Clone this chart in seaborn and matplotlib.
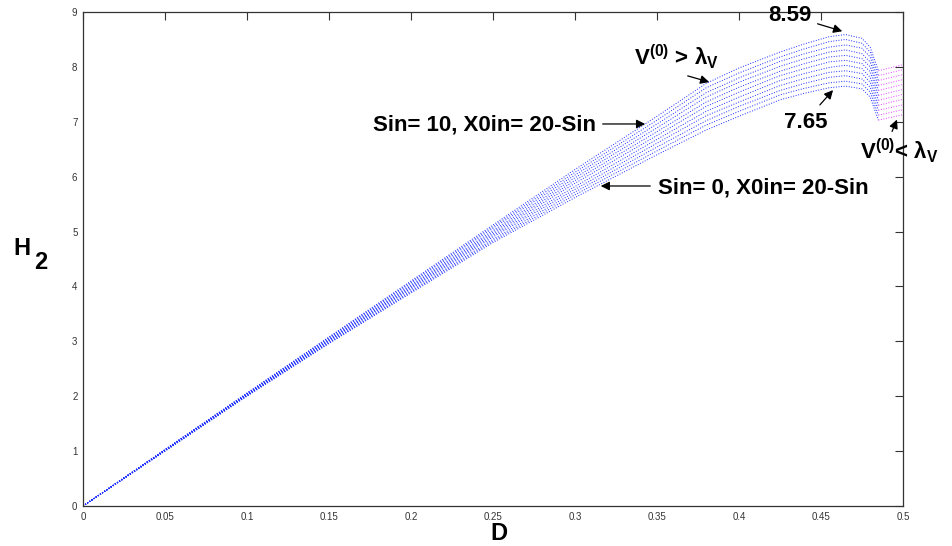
import matplotlib
matplotlib.use('Agg')
import matplotlib.pyplot as plt
import pandas as pd
import seaborn as sns

# D values along each curve (blue branch, V(0) > lambda_V)
d_blue = [0, 0.05, 0.1, 0.15, 0.2, 0.25, 0.3, 0.35, 0.38, 0.4, 0.425, 0.44,
          0.455, 0.465, 0.475, 0.48, 0.485]

# H2, one list per Sin value (Sin = 0 ... 10)
h_sin0 = [0, 1.00, 2.00, 2.96, 3.88, 4.80, 5.62, 6.40, 6.85, 7.10, 7.40, 7.52, 7.62, 7.65, 7.60, 7.45, 7.03]
h_sin1 = [0, 1.00, 2.01, 2.97, 3.90, 4.83, 5.67, 6.47, 6.94, 7.19, 7.49, 7.61, 7.71, 7.74, 7.69, 7.54, 7.12]
h_sin2 = [0, 1.01, 2.01, 2.98, 3.92, 4.86, 5.72, 6.54, 7.02, 7.28, 7.57, 7.70, 7.81, 7.84, 7.78, 7.63, 7.21]
h_sin3 = [0, 1.01, 2.02, 3.00, 3.95, 4.90, 5.77, 6.61, 7.11, 7.36, 7.66, 7.79, 7.90, 7.93, 7.88, 7.72, 7.30]
h_sin4 = [0, 1.01, 2.02, 3.01, 3.97, 4.93, 5.82, 6.68, 7.19, 7.45, 7.75, 7.88, 7.99, 8.03, 7.97, 7.81, 7.39]
h_sin5 = [0, 1.02, 2.03, 3.02, 3.99, 4.96, 5.88, 6.75, 7.28, 7.54, 7.84, 7.97, 8.09, 8.12, 8.06, 7.91, 7.48]
h_sin6 = [0, 1.02, 2.04, 3.03, 4.01, 4.99, 5.93, 6.82, 7.36, 7.63, 7.92, 8.06, 8.18, 8.21, 8.15, 8.00, 7.57]
h_sin7 = [0, 1.02, 2.04, 3.04, 4.03, 5.02, 5.98, 6.89, 7.45, 7.72, 8.01, 8.15, 8.27, 8.31, 8.24, 8.09, 7.66]
h_sin8 = [0, 1.02, 2.05, 3.06, 4.06, 5.06, 6.03, 6.96, 7.53, 7.80, 8.10, 8.24, 8.36, 8.40, 8.34, 8.18, 7.75]
h_sin9 = [0, 1.03, 2.05, 3.07, 4.08, 5.09, 6.08, 7.03, 7.62, 7.89, 8.18, 8.33, 8.46, 8.50, 8.43, 8.27, 7.84]
h_sin10 = [0, 1.03, 2.06, 3.08, 4.10, 5.12, 6.13, 7.10, 7.70, 7.98, 8.27, 8.42, 8.55, 8.59, 8.52, 8.36, 7.93]

# magenta branch (V(0) < lambda_V), start and end per Sin value
d_mag = [0.485, 0.5]
h_mag_start = [7.03, 7.12, 7.21, 7.30, 7.39, 7.48, 7.57, 7.66, 7.75, 7.84, 7.93]
h_mag_end = [7.13, 7.22, 7.31, 7.41, 7.50, 7.59, 7.68, 7.77, 7.86, 7.95, 8.04]

x_ticks = [0, 0.05, 0.1, 0.15, 0.2, 0.25, 0.3, 0.35, 0.4, 0.45, 0.5]
x_tick_labels = ['0', '0.05', '0.1', '0.15', '0.2', '0.25', '0.3', '0.35', '0.4', '0.45', '0.5']
y_ticks = [0, 1, 2, 3, 4, 5, 6, 7, 8, 9]

blue_curves = [h_sin0, h_sin1, h_sin2, h_sin3, h_sin4, h_sin5,
               h_sin6, h_sin7, h_sin8, h_sin9, h_sin10]

rows = []
for sin, h in enumerate(blue_curves):
    for d, v in zip(d_blue, h):
        rows.append({'Sin': sin, 'D': d, 'H2': v})
df_blue = pd.DataFrame(rows)

rows = []
for sin in range(len(h_mag_start)):
    rows.append({'Sin': sin, 'D': d_mag[0], 'H2': h_mag_start[sin]})
    rows.append({'Sin': sin, 'D': d_mag[1], 'H2': h_mag_end[sin]})
df_mag = pd.DataFrame(rows)

sns.set_style('white')
plt.rcParams['font.family'] = ['Liberation Sans', 'DejaVu Sans']
plt.rcParams['text.color'] = 'black'
plt.rcParams['mathtext.fontset'] = 'custom'
plt.rcParams['mathtext.rm'] = 'Liberation Sans:bold'
plt.rcParams['mathtext.it'] = 'Liberation Sans:bold'
plt.rcParams['mathtext.bf'] = 'Liberation Sans:bold'

fig = plt.figure(figsize=(9.52, 5.46), dpi=100)
ax = fig.add_axes([0.0872, 0.0733, 0.8613, 0.9047])

sns.lineplot(data=df_blue, x='D', y='H2', hue='Sin', units='Sin', estimator=None,
             sort=False, palette=['#1a2cff'] * 11, legend=False, ax=ax,
             linestyle=':', linewidth=0.7)
sns.lineplot(data=df_mag, x='D', y='H2', hue='Sin', units='Sin', estimator=None,
             sort=False, palette=['#e040ff'] * 11, legend=False, ax=ax,
             linestyle=':', linewidth=0.7)

ax.set_xlim(0, 0.5)
ax.set_ylim(0, 9)
ax.set_xticks(x_ticks)
ax.set_xticklabels(x_tick_labels)
ax.set_yticks(y_ticks)
ax.tick_params(direction='in', length=6, width=0.8, color='#333333',
               labelsize=7, labelcolor='#333333', top=True, right=True, pad=4)
for s in ax.spines.values():
    s.set_color('#333333')
    s.set_linewidth(0.9)
ax.set_xlabel('')
ax.set_ylabel('')

lab = dict(fontsize=17, fontweight='bold', color='black', ha='center', va='center')
fig.text(499 / 952, 1 - 533 / 546, 'D', **lab)
fig.text(21.5 / 952, 1 - 249 / 546, 'H', **lab)
fig.text(41 / 952, 1 - 262 / 546, '2', **lab)

arrow = dict(arrowstyle='-|>', color='black', lw=0.9, mutation_scale=13)
txt = dict(fontsize=16, fontweight='bold', color='black', va='center')

# 8.59 peak
ax.text(0.4311, 8.93, '8.59', ha='center', **txt)
ax.annotate('', xy=(0.4646, 8.635), xytext=(0.4463, 8.80), arrowprops=arrow)
# V(0) > lambda_V
ax.text(0.3616, 8.18, r'V$^{(0)}$ > $\lambda_V$', ha='center', **txt)
ax.annotate('', xy=(0.3835, 7.71), xytext=(0.3671, 7.85), arrowprops=arrow)
# 7.65 peak
ax.text(0.4409, 6.98, '7.65', ha='center', **txt)
ax.annotate('', xy=(0.4585, 7.615), xytext=(0.4482, 7.27), arrowprops=arrow)
# V(0) < lambda_V
ax.text(0.498, 6.47, r'V$^{(0)}$< $\lambda_V$', ha='center', clip_on=False, **txt)
ax.annotate('', xy=(0.4970, 7.087), xytext=(0.4927, 6.777), arrowprops=arrow)
# Sin labels
ax.text(0.3128, 6.94, 'Sin= 10, X0in= 20-Sin', ha='right', **txt)
ax.annotate('', xy=(0.3445, 6.96), xytext=(0.3152, 6.96), arrowprops=arrow)
ax.text(0.3506, 5.79, 'Sin= 0, X0in= 20-Sin', ha='left', **txt)
ax.annotate('', xy=(0.3140, 5.83), xytext=(0.3476, 5.83), arrowprops=arrow)

fig.savefig('out.png', dpi=100)
